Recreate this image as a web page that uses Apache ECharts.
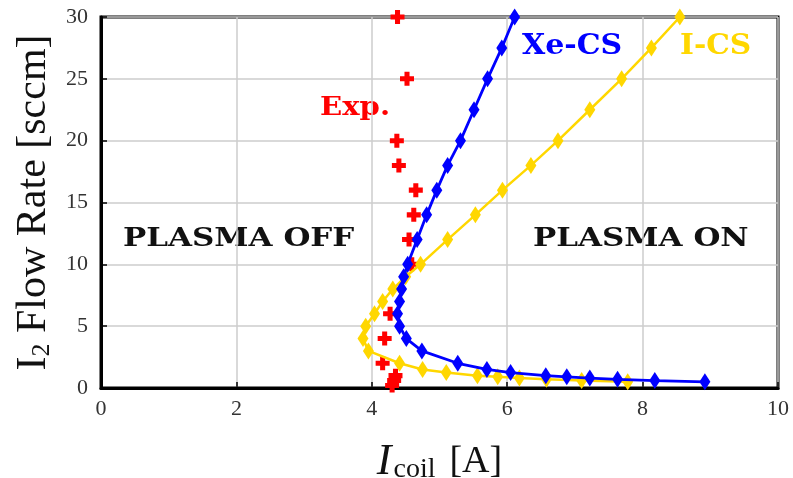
<!DOCTYPE html>
<html><head><meta charset="utf-8">
<script src="https://cdn.jsdelivr.net/npm/echarts@6/dist/echarts.min.js"></script>
<style>html,body{margin:0;padding:0;background:#fff}#c{width:793px;height:478px}</style>
</head><body><div id="c"></div>
<script>
// Xe-CS simulation
const xeFlow = [0.5,0.6,0.7,0.8,0.9,1.0,1.25,1.5,2,3,4,5,6,7,8,9,10,12,14,16,18,20,22.5,25,27.5,30];
const xeCoil = [8.92,8.18,7.63,7.22,6.88,6.57,6.05,5.70,5.27,4.74,4.51,4.41,4.38,4.41,4.44,4.47,4.53,4.67,4.81,4.96,5.12,5.31,5.51,5.71,5.92,6.11];
// I-CS simulation
const iFlow = [0.5,0.6,0.7,0.8,0.9,1.0,1.25,1.5,2,3,4,5,6,7,8,9,10,12,14,16,18,20,22.5,25,27.5,30];
const iCoil = [7.78,7.10,6.58,6.18,5.86,5.56,5.10,4.75,4.41,3.95,3.87,3.91,4.04,4.16,4.31,4.50,4.72,5.12,5.53,5.93,6.35,6.75,7.22,7.69,8.13,8.55];
// Experiment
const expFlow = [0.2,0.6,1,2,4,6,10,12,14,16,18,20,25,30];
const expCoil = [4.30,4.33,4.35,4.16,4.19,4.27,4.59,4.55,4.62,4.65,4.40,4.37,4.52,4.38];
const xTicks = [0,2,4,6,8,10];
const yTicks = [0,5,10,15,20,25,30];

const pair = (xs, ys) => xs.map((x, i) => [x, ys[i]]);
const serif = 'Liberation Serif';
const plus = 'path://M3.2,0H6.8V3.2H10V6.8H6.8V10H3.2V6.8H0V3.2H3.2Z';

const chart = echarts.init(document.getElementById('c'), null, {renderer: 'canvas'});
chart.setOption({
  animation: false,
  backgroundColor: '#fff',
  grid: {left: 101, right: 15, top: 17, bottom: 90, containLabel: false, outerBoundsMode: 'none',
         show: true, borderColor: '#000', borderWidth: 3, backgroundColor: 'transparent'},
  xAxis: {
    type: 'value', min: xTicks[0], max: xTicks[xTicks.length-1], interval: 2,
    axisLine: {show: true, onZero: false, lineStyle: {color: '#000', width: 3}},
    axisTick: {show: true, inside: true, length: 6, lineStyle: {color: '#000', width: 1.5}},
    splitLine: {show: true, lineStyle: {color: '#cccccc', width: 1.5}},
    axisLabel: {color: '#333', fontFamily: serif, fontSize: 22, margin: 10},
    name: '{i|I}{s|coil}{n|[A]}', nameLocation: 'middle', nameGap: 52,
    nameTextStyle: {rich: {
      i: {fontFamily: serif, fontStyle: 'italic', fontSize: 44, color: '#111'},
      s: {fontFamily: serif, fontSize: 28, color: '#111', verticalAlign: 'bottom', padding: [16,14,0,2]},
      n: {fontFamily: serif, fontSize: 38, color: '#111'}
    }}
  },
  yAxis: {
    type: 'value', min: yTicks[0], max: yTicks[yTicks.length-1], interval: 5,
    axisLine: {show: true, onZero: false, lineStyle: {color: '#000', width: 3}},
    axisTick: {show: true, inside: true, length: 6, lineStyle: {color: '#000', width: 1.5}},
    splitLine: {show: true, lineStyle: {color: '#cccccc', width: 1.5}},
    axisLabel: {color: '#333', fontFamily: serif, fontSize: 22, margin: 13},
    name: '{n|I}{s|2}{n| Flow Rate [sccm]}', nameLocation: 'middle', nameGap: 44, nameRotate: 90,
    nameTextStyle: {rich: {
      n: {fontFamily: serif, fontSize: 42, color: '#111'},
      s: {fontFamily: serif, fontSize: 26, color: '#111', verticalAlign: 'bottom', padding: [16,0,0,0]}
    }}
  },
  series: [
    {type: 'scatter', name: 'Exp.', data: pair(expCoil, expFlow), symbol: plus, symbolSize: 14,
     itemStyle: {color: '#ff0000', opacity: 1}, z: 2},
    {type: 'line', name: 'I-CS', data: pair(iCoil, iFlow), symbol: 'diamond', symbolSize: [11, 17],
     showAllSymbol: true, lineStyle: {color: '#ffd700', width: 2.5}, itemStyle: {color: '#ffd700'}, z: 3},
    {type: 'line', name: 'Xe-CS', data: pair(xeCoil, xeFlow), symbol: 'diamond', symbolSize: [11, 17],
     showAllSymbol: true, lineStyle: {color: '#0000ff', width: 2.8}, itemStyle: {color: '#0000ff'}, z: 4}
  ],
  graphic: [
    {type: 'text', x: 522, y: 33, scaleX: 1.07, style: {text: 'Xe-CS', fill: '#0000ff', font: 'bold 28px "DejaVu Serif"'}},
    {type: 'text', x: 680, y: 33, scaleX: 1.06, style: {text: 'I-CS', fill: '#ffd700', font: 'bold 28px "DejaVu Serif"'}},
    {type: 'text', x: 320, y: 95, scaleX: 1.12, style: {text: 'Exp.', fill: '#ff0000', font: 'bold 26px "DejaVu Serif"'}},
    {type: 'text', x: 123, y: 226, scaleX: 1.19, style: {text: 'PLASMA OFF', fill: '#111', font: 'bold 26px "DejaVu Serif"'}},
    {type: 'text', x: 533, y: 226, scaleX: 1.19, style: {text: 'PLASMA ON', fill: '#111', font: 'bold 26px "DejaVu Serif"'}}
  ]
});
</script></body></html>
